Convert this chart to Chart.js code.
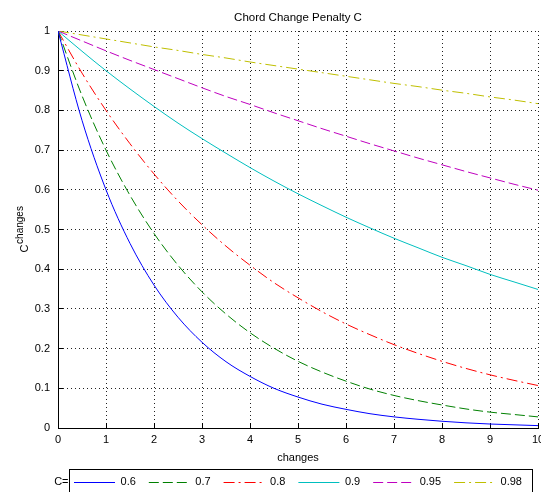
<!DOCTYPE html>
<html>
<head>
<meta charset="utf-8">
<script src="https://cdn.jsdelivr.net/npm/chart.js@4"></script>
<style>
  html, body { margin: 0; padding: 0; background: #fff; }
  canvas { display: block; }
</style>
</head>
<body>
<canvas id="c" width="541" height="492"></canvas>
<script>
// ---- data ----
const changes = [0, 0.5, 1, 1.5, 2, 2.5, 3, 3.5, 4, 4.5, 5, 5.5, 6, 6.5, 7, 7.5, 8, 8.5, 9, 9.5, 10];
const cLabels = ['0.6', '0.7', '0.8', '0.9', '0.95', '0.98'];
const c060 = [1, 0.775, 0.60, 0.465, 0.36, 0.279, 0.216, 0.167, 0.130, 0.100, 0.078, 0.060, 0.047, 0.036, 0.028, 0.022, 0.017, 0.013, 0.010, 0.008, 0.006];
const c070 = [1, 0.837, 0.70, 0.586, 0.49, 0.410, 0.343, 0.287, 0.240, 0.201, 0.168, 0.141, 0.118, 0.098, 0.082, 0.069, 0.058, 0.048, 0.040, 0.034, 0.028];
const c080 = [1, 0.894, 0.80, 0.716, 0.64, 0.572, 0.512, 0.458, 0.410, 0.366, 0.328, 0.293, 0.262, 0.235, 0.210, 0.188, 0.168, 0.150, 0.134, 0.120, 0.107];
const c090 = [1, 0.949, 0.90, 0.854, 0.81, 0.768, 0.729, 0.692, 0.656, 0.622, 0.590, 0.560, 0.531, 0.504, 0.478, 0.454, 0.430, 0.409, 0.387, 0.368, 0.349];
const c095 = [1, 0.975, 0.95, 0.926, 0.903, 0.880, 0.857, 0.835, 0.815, 0.794, 0.774, 0.754, 0.735, 0.716, 0.698, 0.680, 0.663, 0.646, 0.630, 0.614, 0.599];
const c098 = [1, 0.990, 0.98, 0.970, 0.960, 0.951, 0.941, 0.932, 0.922, 0.913, 0.904, 0.895, 0.886, 0.877, 0.868, 0.860, 0.851, 0.843, 0.834, 0.826, 0.817];
const xTicks = [0, 1, 2, 3, 4, 5, 6, 7, 8, 9, 10];
const yTicks = [0, 0.1, 0.2, 0.3, 0.4, 0.5, 0.6, 0.7, 0.8, 0.9, 1];

const seriesValues = [c060, c070, c080, c090, c095, c098];
const colors = ['#0000ff', '#008000', '#ff0000', '#00bfbf', '#bf00bf', '#bfbf00'];
const dashes = [[], [10, 4], [11, 4, 2, 4], [], [10, 4], [11, 4, 2, 4]];

const FONT = '"Liberation Sans", Arial, Helvetica, sans-serif';
const SAMPLE_W = 41;

const datasets = seriesValues.map((vals, i) => ({
  label: cLabels[i],
  data: changes.map((x, j) => ({ x: x, y: vals[j] })),
  borderColor: colors[i],
  backgroundColor: colors[i],
  borderWidth: 1,
  borderDash: dashes[i],
  pointRadius: 0,
  fill: false,
  cubicInterpolationMode: 'monotone'
}));

const extras = {
  id: 'extras',
  afterDraw(chart) {
    const ctx = chart.ctx;
    const area = chart.chartArea;
    // y axis label C^changes
    ctx.save();
    ctx.fillStyle = '#000';
    ctx.textBaseline = 'alphabetic';
    ctx.textAlign = 'left';
    ctx.font = '11px ' + FONT;
    const w1 = ctx.measureText('C').width;
    ctx.font = '10px ' + FONT;
    const w2 = ctx.measureText('changes').width;
    ctx.translate(28, (area.top + area.bottom) / 2);
    ctx.rotate(-Math.PI / 2);
    const start = -(w1 + w2) / 2;
    ctx.font = '11px ' + FONT;
    ctx.fillText('C', start, 0);
    ctx.font = '10px ' + FONT;
    ctx.fillText('changes', start + w1 + 0.5, -5);
    ctx.restore();

    // legend line samples, frame and "C=" label
    const lg = chart.legend;
    const hb = lg.legendHitBoxes;
    const items = lg.legendItems;
    if (hb && hb.length) {
      items.forEach((it, i) => {
        const ds = chart.data.datasets[it.datasetIndex];
        const y = Math.round(hb[i].top + hb[i].height / 2) + 0.5;
        ctx.save();
        ctx.strokeStyle = ds.borderColor;
        ctx.lineWidth = ds.borderWidth;
        ctx.setLineDash(ds.borderDash || []);
        ctx.beginPath();
        ctx.moveTo(hb[i].left, y);
        ctx.lineTo(hb[i].left + SAMPLE_W, y);
        ctx.stroke();
        ctx.restore();
      });
      const last = hb[hb.length - 1];
      const left = Math.round(hb[0].left - 5) + 0.5;
      const right = Math.round(last.left + last.width + 10) + 0.5;
      const top = Math.round(hb[0].top - 7) + 0.5;
      ctx.save();
      ctx.strokeStyle = '#000';
      ctx.lineWidth = 1;
      ctx.setLineDash([]);
      ctx.strokeRect(left, top, right - left, 40);
      ctx.fillStyle = '#000';
      ctx.font = '11px ' + FONT;
      ctx.textAlign = 'right';
      ctx.textBaseline = 'middle';
      ctx.fillText('C=', left - 1, hb[0].top + hb[0].height / 2);
      ctx.restore();
    }
  }
};

new Chart(document.getElementById('c'), {
  type: 'line',
  data: { datasets: datasets },
  plugins: [extras],
  options: {
    responsive: false,
    animation: false,
    devicePixelRatio: 1,
    layout: { padding: { top: 0, left: 0, right: 3, bottom: -5 } },
    plugins: {
      title: {
        display: true,
        fullSize: false,
        text: 'Chord Change Penalty C',
        color: '#000',
        font: { family: FONT, size: 11.5, weight: 'normal' },
        padding: { top: 11, bottom: 6.2 }
      },
      legend: {
        display: true,
        position: 'bottom',
        fullSize: false,
        labels: {
          usePointStyle: true,
          pointStyle: 'line',
          pointStyleWidth: SAMPLE_W,
          color: '#000',
          font: { family: FONT, size: 11 },
          padding: 13,
          generateLabels: chart => {
            const items = Chart.defaults.plugins.legend.labels.generateLabels(chart);
            items.forEach(it => {
              it.lineWidth = 0;
              it.strokeStyle = 'rgba(0,0,0,0)';
              it.fillStyle = 'rgba(0,0,0,0)';
            });
            return items;
          }
        }
      },
      tooltip: { enabled: false }
    },
    scales: {
      x: {
        type: 'linear',
        min: 0,
        max: 10,
        afterFit: s => { s.height = 35; s.paddingLeft = 0; s.paddingRight = 0; },
        afterBuildTicks: s => { s.ticks = xTicks.map(v => ({ value: v })); },
        ticks: {
          color: '#000',
          font: { family: FONT, size: 11 },
          padding: 10,
          maxRotation: 0,
          autoSkip: false
        },
        grid: {
          color: '#222',
          lineWidth: 1,
          drawTicks: true,
          tickLength: -5,
          tickColor: '#000',
          tickWidth: 1
        },
        border: { display: true, color: '#000', width: 1, dash: [1, 3] },
        title: {
          display: true,
          text: 'changes',
          color: '#000',
          font: { family: FONT, size: 11 },
          padding: { top: 0, bottom: -2 }
        }
      },
      y: {
        type: 'linear',
        min: 0,
        max: 1,
        afterFit: s => { s.width = 58; s.paddingTop = 0; s.paddingBottom = 0; },
        afterBuildTicks: s => { s.ticks = yTicks.map(v => ({ value: v })); },
        ticks: {
          color: '#000',
          font: { family: FONT, size: 11 },
          padding: 13,
          autoSkip: false,
          callback: v => String(Number(v.toFixed(1)))
        },
        grid: {
          color: '#222',
          lineWidth: 1,
          drawTicks: true,
          tickLength: -5,
          tickColor: '#000',
          tickWidth: 1
        },
        border: { display: true, color: '#000', width: 1, dash: [1, 3] }
      }
    }
  }
});
</script>
</body>
</html>
